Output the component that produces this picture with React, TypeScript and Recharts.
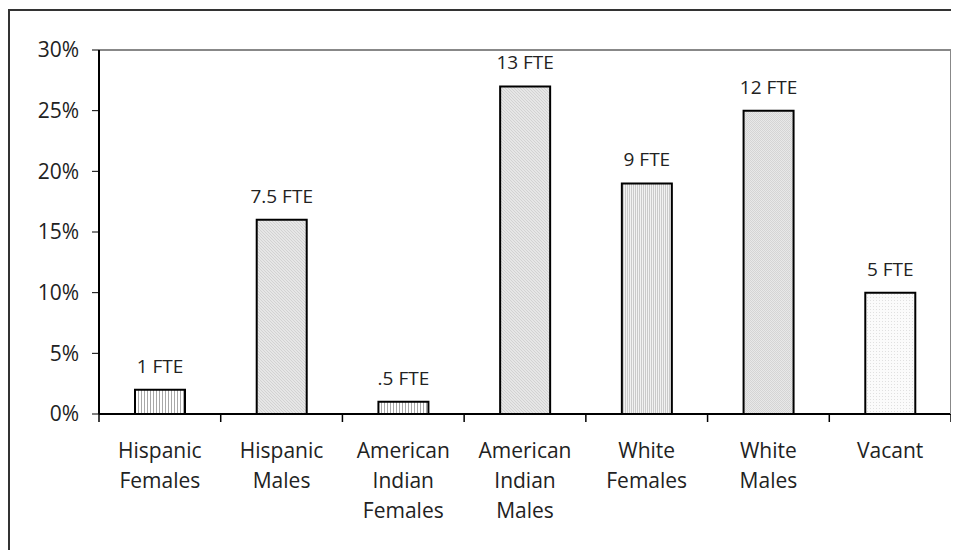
import { BarChart, Bar, XAxis, YAxis, CartesianGrid, ReferenceLine, LabelList, Cell } from 'recharts';

const CATEGORIES = [
  'Hispanic Females',
  'Hispanic Males',
  'American Indian Females',
  'American Indian Males',
  'White Females',
  'White Males',
  'Vacant',
];
const PERCENTS = [2, 16, 1, 27, 19, 25, 10];
const FTE_LABELS = ['1 FTE', '7.5 FTE', '.5 FTE', '13 FTE', '9 FTE', '12 FTE', '5 FTE'];
const Y_TICKS = [0, 5, 10, 15, 20, 25, 30];

// pattern ids per bar, Excel-ish print fills
const FILLS = ['vstripe', 'diag', 'vstripe', 'diag', 'vfine', 'check', 'dots'];

const FONT = '"Open Sans", "Noto Sans", sans-serif';
const INK = '#222';

const data = CATEGORIES.map((name, i) => ({ name, value: PERCENTS[i], fte: FTE_LABELS[i] }));

function CategoryTick(props: any) {
  const { x, y, payload, index } = props;
  const half = payload.offset || 0;
  const lines = String(payload.value).split(' ');
  const axisY = y - 10;
  return (
    <g>
      <line x1={x - half} x2={x - half} y1={axisY} y2={axisY + 8} stroke="#000" strokeWidth={1.5} />
      {index === CATEGORIES.length - 1 && (
        <line x1={x + half} x2={x + half} y1={axisY} y2={axisY + 8} stroke="#000" strokeWidth={1.5} />
      )}
      <text x={x} y={y} textAnchor="middle" fill={INK} fontFamily={FONT} fontSize={21}>
        {lines.map((l, i) => (
          <tspan key={i} x={x} y={y + 34 + i * 30}>
            {l}
          </tspan>
        ))}
      </text>
    </g>
  );
}

function FteLabel(props: any) {
  const { x, y, width, value } = props;
  return (
    <text x={x + width / 2} y={y - 17} textAnchor="middle" fill={INK} fontFamily={FONT} fontSize={19}>
      {value}
    </text>
  );
}

export default function App() {
  return (
    <div style={{ position: 'relative', width: 951, height: 542 }}>
      <style>{'html,body{overflow:hidden}'}</style>
      <svg width={0} height={0} style={{ position: 'absolute' }}>
        <defs>
          <pattern id="vstripe" width={3} height={4} patternUnits="userSpaceOnUse">
            <rect width={3} height={4} fill="#fff" />
            <rect x={1} width={1} height={4} fill="#a8a8a8" />
          </pattern>
          <pattern id="vfine" width={2} height={4} patternUnits="userSpaceOnUse">
            <rect width={2} height={4} fill="#f2f2f2" />
            <rect x={1} width={1} height={4} fill="#cacaca" />
          </pattern>
          <pattern id="diag" width={3} height={3} patternUnits="userSpaceOnUse">
            <rect width={3} height={3} fill="#e6e6e6" />
            <rect x={0} y={0} width={1} height={1} fill="#d2d2d2" />
            <rect x={1} y={1} width={1} height={1} fill="#d2d2d2" />
            <rect x={2} y={2} width={1} height={1} fill="#d2d2d2" />
          </pattern>
          <pattern id="check" width={2} height={2} patternUnits="userSpaceOnUse">
            <rect width={2} height={2} fill="#e8e8e8" />
            <rect x={0} y={0} width={1} height={1} fill="#d4d4d4" />
            <rect x={1} y={1} width={1} height={1} fill="#d4d4d4" />
          </pattern>
          <pattern id="dots" width={3} height={3} patternUnits="userSpaceOnUse">
            <rect width={3} height={3} fill="#fbfbfb" />
            <rect x={1} y={1} width={1} height={1} fill="#e0e0e0" />
          </pattern>
        </defs>
      </svg>
      <div
        style={{
          position: 'absolute',
          left: 0,
          top: 1,
          right: -20,
          bottom: -20,
          borderTop: '2px solid #333',
          borderLeft: '2px solid #333',
        }}
      />
      <div style={{ position: 'absolute', left: 0, top: 0 }}>
        <BarChart
          width={951}
          height={542}
          data={data}
          margin={{ top: 42, right: 7, left: 0, bottom: 0 }}
          barCategoryGap={0}
        >
          <CartesianGrid vertical={false} stroke="#222" strokeWidth={1} />
          <XAxis
            dataKey="name"
            height={136}
            axisLine={{ stroke: '#000', strokeWidth: 2 }}
            tickLine={false}
            tickSize={8}
            tickMargin={2}
            interval={0}
            tick={<CategoryTick />}
          />
          <YAxis
            yAxisId="left"
            width={91}
            domain={[0, 30]}
            ticks={Y_TICKS}
            interval={0}
            tickFormatter={(v) => `${v}%`}
            axisLine={{ stroke: '#000', strokeWidth: 2 }}
            tickLine={{ stroke: '#000', strokeWidth: 1 }}
            tickSize={7}
            tickMargin={13}
            tick={{ fill: INK, fontSize: 21, fontFamily: FONT }}
          />
          <YAxis
            yAxisId="right"
            orientation="right"
            width={1}
            domain={[0, 30]}
            tick={false}
            tickLine={false}
            axisLine={{ stroke: '#888', strokeWidth: 2 }}
          />
          <ReferenceLine yAxisId="left" y={30} stroke="#888" strokeWidth={2} />
          <Bar
            yAxisId="left"
            dataKey="value"
            barSize={50}
            stroke="#000"
            strokeWidth={2}
            isAnimationActive={false}
          >
            {data.map((d, i) => (
              <Cell key={d.name} fill={`url(#${FILLS[i]})`} />
            ))}
            <LabelList dataKey="fte" content={<FteLabel />} />
          </Bar>
        </BarChart>
      </div>
    </div>
  );
}
